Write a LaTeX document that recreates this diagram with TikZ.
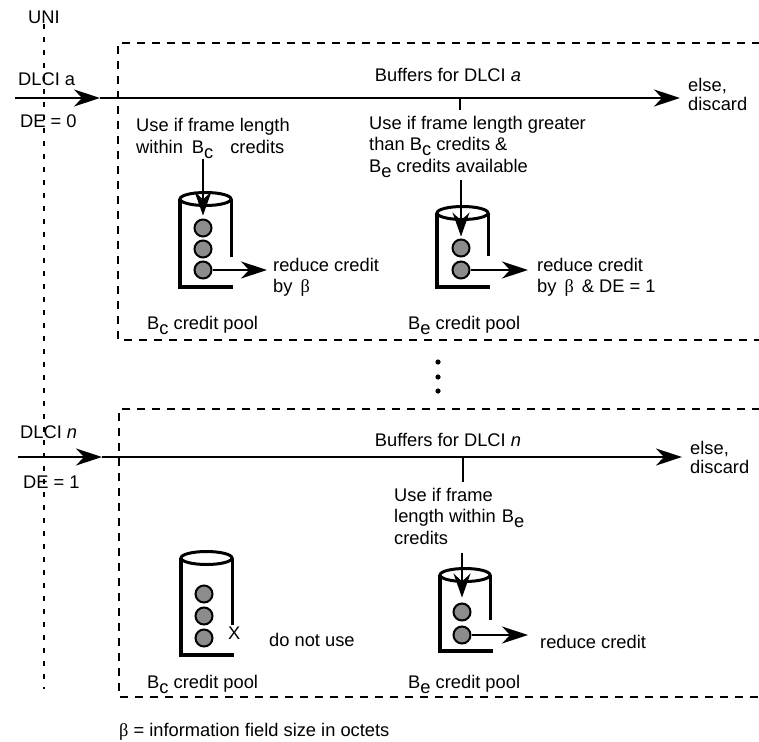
\documentclass[tikz,border=0pt]{standalone}
\usepackage{fontspec}
\setmainfont{Liberation Sans}
\newfontfamily\symbolfont{Liberation Serif}
\usetikzlibrary{arrows.meta}
\newlength{\du}
\setlength{\du}{1pt}
\newcommand{\lowsub}[1]{\raisebox{-5\du}{#1}}
\newcommand{\bet}{{\symbolfont β}}
\definecolor{ballgray}{rgb}{0.550000, 0.550000, 0.550000}
\tikzset{
  lbl/.style={inner sep=0pt, font=\fontsize{18.3}{21.5}\selectfont},
  note/.style={lbl, align=left, anchor=north west},
  flow/.style={line width=2.3\du, -{Stealth[length=26pt,width=17pt,inset=8pt]}},
  entry/.style={line width=1.5\du, -{Stealth[length=26pt,width=17pt,inset=8pt]}},
  feed/.style={line width=1.3\du, -{Stealth[length=24pt,width=17pt,inset=8pt]}},
  spend/.style={line width=1.3\du, -{Stealth[length=26pt,width=17pt,inset=8pt]}},
  stub/.style={line width=1.3\du},
  buffer/.style={line width=2\du, dash pattern=on 8\du off 7\du},
  interface/.style={line width=1.5\du, dash pattern=on 5\du off 8\du},
  wall/.style={line width=4\du},
  rim/.style={line width=3\du},
  ball/.style={circle, draw, line width=2\du, fill=ballgray, minimum size=17\du, inner sep=0pt}
}

\begin{document}
\begin{tikzpicture}
\pgftransformxscale{1.000000}
\pgftransformyscale{-1.000000}
\definecolor{dialinecolor}{rgb}{0.000000, 0.000000, 0.000000}
\pgfsetstrokecolor{dialinecolor}
\useasboundingbox (0\du,0\du) rectangle (759\du,741\du);
% interface line
\node[lbl,anchor=base] (uni) at (44\du,23.6\du){UNI};
\coordinate (unibot) at (44\du,689\du);
\draw[interface] (uni.south) -- (uni.south |- unibot);
% buffer boxes
\draw[buffer] (760\du,43\du)--(118\du,43\du)--(118\du,340\du)--(760\du,340\du);
\draw[buffer] (760\du,409\du)--(119\du,409\du)--(119\du,697\du)--(760\du,697\du);
% DLCI a
\node[lbl,anchor=base west] (dlcia) at (18\du,85\du){DLCI a};
\node[lbl,anchor=base west] (dea) at (20\du,127\du){DE = 0};
\node[lbl,anchor=base] (bufa) at (448\du,81.6\du){Buffers for DLCI \textit{a}};
\node[note,font=\fontsize{18.3}{19.5}\selectfont] (elsea) at (688\du,78\du){else,\\discard};
\coordinate (enta) at (15\du,98\du);
\coordinate (gatea) at (100\du,98\du);
\coordinate (discarda) at (680\du,98\du);
\draw[entry] (enta)--(gatea);
\draw[flow] (gatea)--(discarda);
\coordinate (forka) at (460\du,98\du);
\node[note] (usebca) at (136\du,118.5\du){Use if frame length\\within\hspace{9\du}B\lowsub{c}\hspace{17\du}credits};
\node[note] (usebea) at (369\du,116\du){Use if frame length greater\\than\hspace{5\du}B\lowsub{c} credits \&\\B\lowsub{e} credits available};
\draw[stub,shorten >=6\du] (forka)--(forka |- usebea.north);
% Bc pool, DLCI a
\draw[wall] (180\du,199\du)--(180\du,287\du)--(233\du,287\du);
\draw[rim] (231\du,199\du)--(231\du,257\du);
\draw[rim] (205.5\du,199\du) ellipse [x radius=25.5\du, y radius=6.5\du];
\node[ball] (bca1) at (203\du,228\du){};
\node[ball] (bca2) at (203\du,249\du){};
\node[ball] (bca3) at (203\du,270\du){};
\node[note] (reducea) at (273\du,258\du){reduce credit\\by\hspace{8\du}\bet};
\node[lbl,anchor=base west] (bcpoola) at (147\du,329.6\du){B\lowsub{c} credit pool};
\draw[feed,shorten >=3\du] (usebca.south -| bca1)--(bca1.north);
\draw[spend,shorten >=6\du] (bca3)--(bca3 -| reducea.west);
% Be pool, DLCI a
\draw[wall] (437\du,213\du)--(437\du,287\du)--(490\du,287\du);
\draw[rim] (488\du,213\du)--(488\du,256\du);
\draw[rim] (462.5\du,213\du) ellipse [x radius=25.5\du, y radius=6.5\du];
\node[ball] (bea1) at (461\du,248\du){};
\node[ball] (bea2) at (461\du,270\du){};
\node[note] (reduceea) at (537\du,258\du){reduce credit\\by\hspace{8\du}\bet\hspace{8\du}\& DE = 1};
\node[lbl,anchor=base west] (bepoola) at (408\du,329.6\du){B\lowsub{e} credit pool};
\draw[feed,shorten <=2\du,shorten >=2\du] (usebea.south -| bea1)--(bea1.north);
\draw[spend,shorten >=9\du] (bea2)--(bea2 -| reduceea.west);
% more DLCIs
\fill (438\du,362\du) circle (2.6\du);
\fill (438\du,377\du) circle (2.6\du);
\fill (438\du,391\du) circle (2.6\du);
% DLCI n
\node[lbl,anchor=base west] (dlcin) at (20\du,438.6\du){DLCI \textit{n}};
\node[lbl,anchor=base west] (den) at (23\du,488.6\du){DE = 1};
\node[lbl,anchor=base] (bufn) at (448\du,446.6\du){Buffers for DLCI \textit{n}};
\node[note,font=\fontsize{18.3}{19.5}\selectfont] (elsen) at (690\du,441\du){else,\\discard};
\coordinate (entn) at (18\du,457\du);
\coordinate (gaten) at (102\du,457\du);
\coordinate (discardn) at (682\du,457\du);
\draw[entry] (entn)--(gaten);
\draw[flow] (gaten)--(discardn);
\coordinate (forkn) at (463\du,457\du);
\node[note] (usen) at (394\du,488\du){Use if frame\\length within\hspace{6\du}B\lowsub{e}\\credits};
\draw[stub,shorten >=6\du] (forkn)--(forkn |- usen.north);
% Bc pool, DLCI n
\draw[wall] (181\du,558\du)--(181\du,655\du)--(234\du,655\du);
\draw[rim] (232\du,558\du)--(232\du,625\du);
\draw[rim] (206.5\du,558\du) ellipse [x radius=25.5\du, y radius=6.5\du];
\node[ball] (bcn1) at (204\du,594\du){};
\node[ball] (bcn2) at (204\du,616\du){};
\node[ball] (bcn3) at (204\du,638\du){};
\node[lbl,anchor=base west] (xmark) at (228\du,639.6\du){X};
\node[lbl,anchor=base west] (nouse) at (269\du,646.6\du){do not use};
\node[lbl,anchor=base west] (bcpooln) at (147\du,688.6\du){B\lowsub{c} credit pool};
% Be pool, DLCI n
\draw[wall] (440\du,575\du)--(440\du,651\du)--(493\du,651\du);
\draw[rim] (490\du,575\du)--(490\du,620\du);
\draw[rim] (465\du,575\du) ellipse [x radius=25\du, y radius=6.5\du];
\node[ball] (ben1) at (462\du,612\du){};
\node[ball] (ben2) at (462\du,635\du){};
\node[lbl,anchor=base west] (reducen) at (540\du,648.6\du){reduce credit};
\node[lbl,anchor=base west] (bepooln) at (408\du,688.6\du){B\lowsub{e} credit pool};
\draw[feed,shorten <=8\du,shorten >=5\du] (usen.south -| ben1)--(ben1.north);
\draw[spend,shorten >=12\du] (ben2)--(ben2 -| reducen.west);
% legend
\node[lbl,anchor=base west] (legend) at (119\du,736\du){\bet{} = information field size in octets};
\end{tikzpicture}
\end{document}
